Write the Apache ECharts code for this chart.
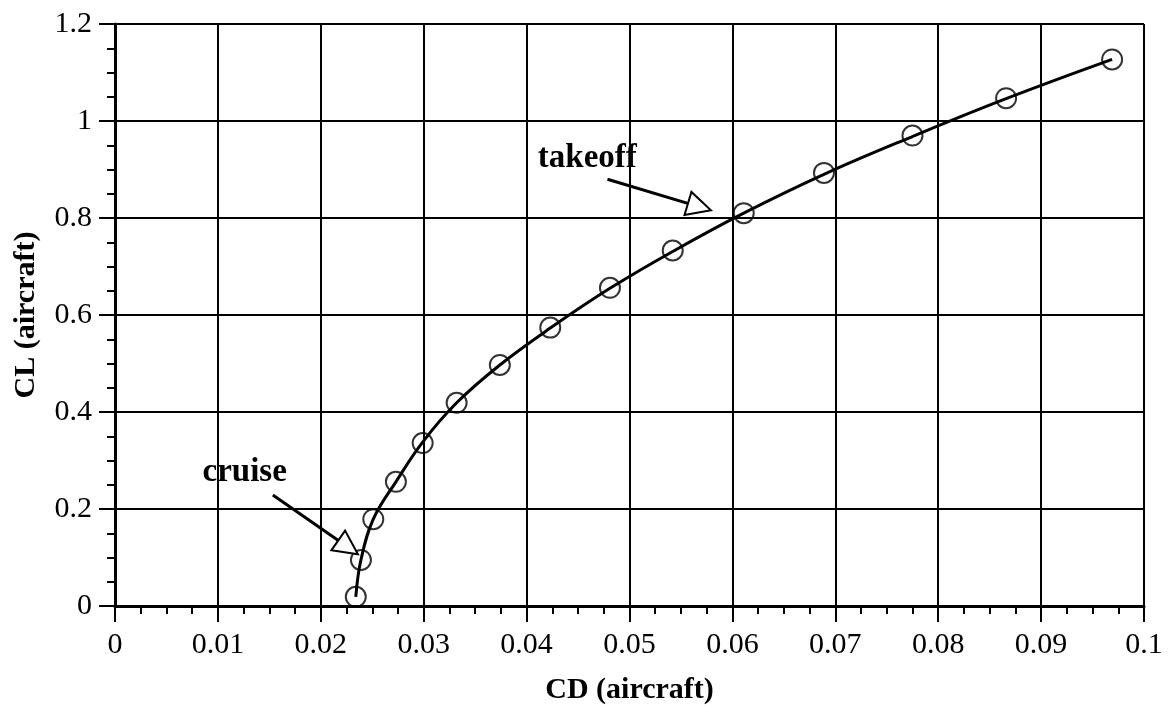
<!DOCTYPE html>
<html>
<head>
<meta charset="utf-8">
<script src="https://cdn.jsdelivr.net/npm/echarts@6/dist/echarts.min.js"></script>
<style>
html,body{margin:0;padding:0;background:#fff;}
#chart{width:1169px;height:705px;}
</style>
</head>
<body>
<div id="chart"></div>
<script>
// Measured drag polar points (circles)
const cdPoints = [0.0234, 0.0239, 0.0251, 0.0273, 0.0299, 0.0332, 0.0374, 0.0423, 0.0481, 0.0542, 0.0611, 0.0689, 0.0775, 0.0866, 0.0969];
const clPoints = [0.019, 0.095, 0.179, 0.256, 0.336, 0.419, 0.497, 0.574, 0.656, 0.733, 0.810, 0.893, 0.970, 1.047, 1.127];

// Fitted curve
const cdCurve = [0.0234, 0.0239, 0.0251, 0.0273, 0.0299, 0.0332, 0.0374, 0.0423, 0.0481, 0.0542, 0.0611, 0.0689, 0.0775, 0.0866, 0.0969];
const clCurve = [0.019, 0.095, 0.179, 0.256, 0.338, 0.419, 0.497, 0.573, 0.655, 0.731, 0.810, 0.890, 0.968, 1.046, 1.127];

// Annotations
const annoLabels = ['cruise', 'takeoff'];
const annoTextPos = [[0.0126, 0.276], [0.0459, 0.922]];
const annoArrowFrom = [[0.01534, 0.229], [0.04786, 0.880]];
const annoArrowTo = [[0.02265, 0.121], [0.0568, 0.823]];

const xTicks = [0, 0.1, 0.01];   // min, max, interval
const yTicks = [0, 1.2, 0.2];

const serif = '"Liberation Serif", "Times New Roman", serif';

const chart = echarts.init(document.getElementById('chart'), null, {renderer: 'canvas'});

const curveData = cdCurve.map((x, i) => [x, clCurve[i]]);
const pointData = cdPoints.map((x, i) => [x, clPoints[i]]);

const option = {
  backgroundColor: '#ffffff',
  animation: false,
  grid: {left: 115, right: 25, top: 24, bottom: 99, containLabel: false, outerBoundsMode: 'none'},
  xAxis: {
    type: 'value',
    min: xTicks[0], max: xTicks[1], interval: xTicks[2],
    name: 'CD (aircraft)',
    nameLocation: 'middle',
    nameGap: 69,
    nameTextStyle: {fontFamily: serif, fontWeight: 'bold', fontSize: 30, color: '#000'},
    axisLine: {show: true, onZero: false, lineStyle: {color: '#000', width: 3}},
    axisTick: {show: true, inside: false, length: 16, lineStyle: {color: '#000', width: 2}},
    minorTick: {show: true, splitNumber: 4, length: 8, lineStyle: {color: '#000', width: 2}},
    axisLabel: {
      margin: 24, fontFamily: serif, fontSize: 30, color: '#000',
      formatter: v => String(Math.round(v * 100) / 100)
    },
    splitLine: {show: true, lineStyle: {color: '#000', width: 2}}
  },
  yAxis: {
    type: 'value',
    min: yTicks[0], max: yTicks[1], interval: yTicks[2],
    name: 'CL (aircraft)',
    nameLocation: 'middle',
    nameGap: 74,
    nameRotate: 90,
    nameTextStyle: {fontFamily: serif, fontWeight: 'bold', fontSize: 30, color: '#000'},
    axisLine: {show: true, onZero: false, lineStyle: {color: '#000', width: 3}},
    axisTick: {show: true, inside: false, length: 16, lineStyle: {color: '#000', width: 2}},
    minorTick: {show: true, splitNumber: 4, length: 8, lineStyle: {color: '#000', width: 2}},
    axisLabel: {
      margin: 23, fontFamily: serif, fontSize: 30, color: '#000',
      formatter: v => String(Math.round(v * 10) / 10)
    },
    splitLine: {show: true, lineStyle: {color: '#000', width: 2}}
  },
  series: [
    {
      type: 'line',
      name: 'curve',
      data: curveData,
      smooth: 0.4,
      showSymbol: false,
      symbol: 'none',
      lineStyle: {color: '#000', width: 3},
      z: 3,
      markLine: {
        silent: true,
        symbol: ['none', 'emptyTriangle'],
        symbolSize: 24,
        lineStyle: {color: '#000', width: 3, type: 'solid'},
        label: {show: false},
        data: annoArrowFrom.map((p, i) => [{coord: p}, {coord: annoArrowTo[i]}])
      },
      markPoint: {
        silent: true,
        symbol: 'circle',
        symbolSize: 1,
        itemStyle: {color: 'rgba(0,0,0,0)'},
        label: {
          show: true, position: 'inside',
          fontFamily: serif, fontWeight: 'bold', fontSize: 33, color: '#000',
          formatter: p => p.name
        },
        data: annoLabels.map((t, i) => ({name: t, coord: annoTextPos[i]}))
      }
    },
    {
      type: 'scatter',
      name: 'points',
      data: pointData,
      symbol: 'circle',
      symbolSize: 20,
      itemStyle: {color: 'rgba(0,0,0,0)', borderColor: '#000', borderWidth: 2},
      z: 4
    }
  ]
};
chart.setOption(option);
</script>
</body>
</html>
